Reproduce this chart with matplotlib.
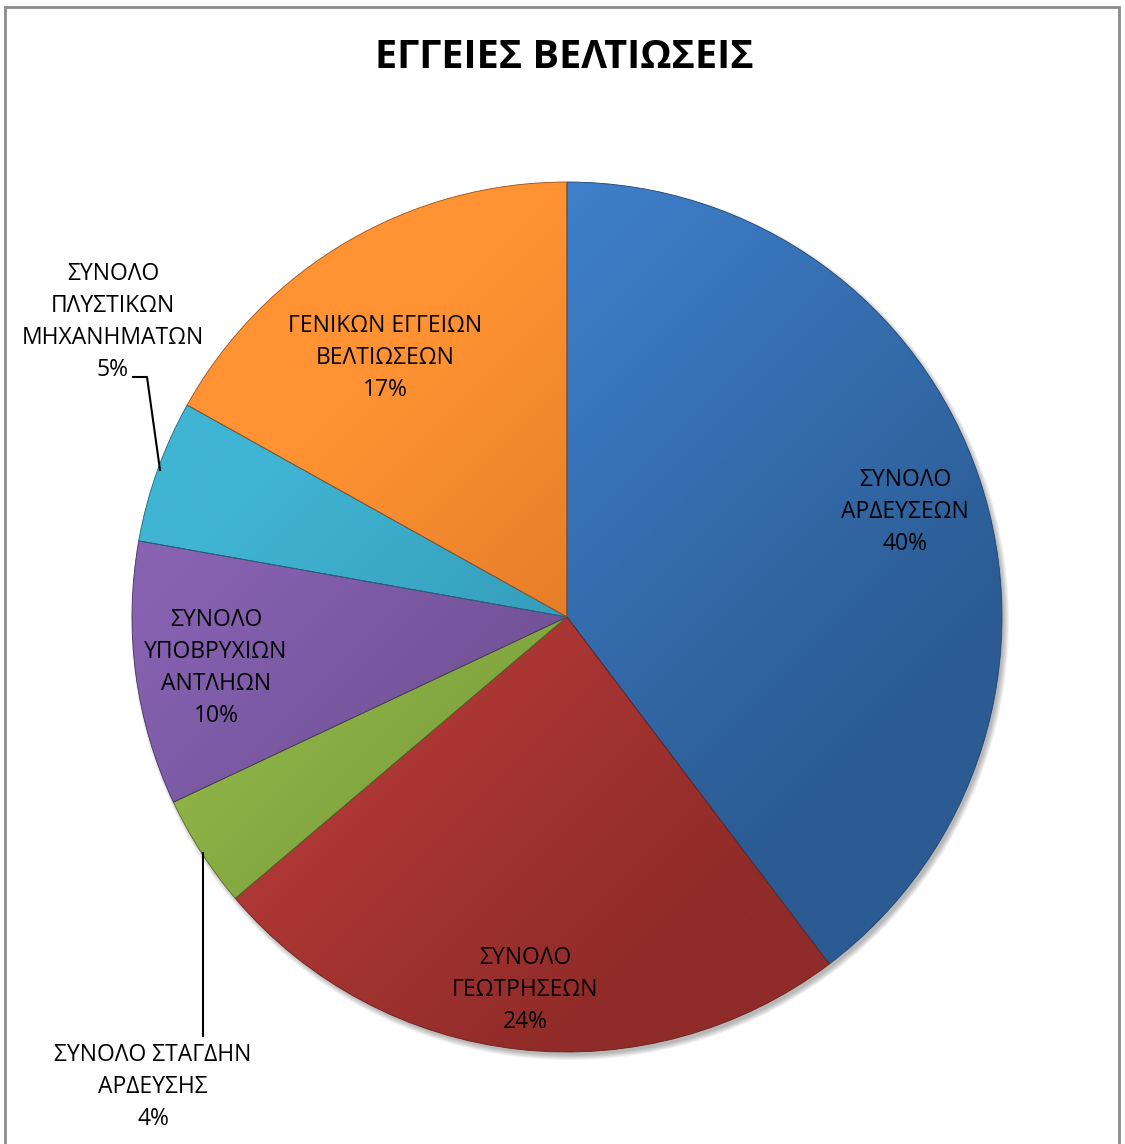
import numpy as np
import matplotlib.pyplot as plt
from matplotlib.patches import Circle, Rectangle
from matplotlib.colors import to_rgb

# Data (percent shares, clockwise from 12 o'clock)
categories = ["ΣΥΝΟΛΟ\nΑΡΔΕΥΣΕΩΝ", "ΣΥΝΟΛΟ\nΓΕΩΤΡΗΣΕΩΝ", "ΣΥΝΟΛΟ ΣΤΑΓΔΗΝ\nΑΡΔΕΥΣΗΣ",
              "ΣΥΝΟΛΟ\nΥΠΟΒΡΥΧΙΩΝ\nΑΝΤΛΗΩΝ", "ΣΥΝΟΛΟ\nΠΛΥΣΤΙΚΩΝ\nΜΗΧΑΝΗΜΑΤΩΝ",
              "ΓΕΝΙΚΩΝ ΕΓΓΕΙΩΝ\nΒΕΛΤΙΩΣΕΩΝ"]
values = [39.7, 24.1, 4.2, 9.8, 5.3, 16.9]
pct_labels = ["40%", "24%", "4%", "10%", "5%", "17%"]

light = ["#3F80CC", "#C6423F", "#98BF4C", "#8762B2", "#40B4D3", "#FF9333"]
dark = ["#2B5B92", "#8F2B28", "#6E8E35", "#5F4380", "#2A89A4", "#CD6A1F"]

plt.rcParams['font.family'] = ['Open Sans', 'Noto Sans', 'DejaVu Sans']

W, H = 1125, 1144
fig = plt.figure(figsize=(W / 100, H / 100), dpi=100)
ax = fig.add_axes([0, 0, 1, 1])

# outer frame
ax.add_patch(Rectangle((5, -10), 1114, H - 7 + 10, fill=False, ec="#8c8c8c", lw=2))

cx, cy, r = 567, H - 617, 435

# soft shadow
for k in range(6):
    ax.add_patch(Circle((cx + 3, cy - 4), r + 4 - k, fc="#000000", alpha=0.05, lw=0, zorder=1))

wedges, _ = ax.pie(values, startangle=90, counterclock=False, center=(cx, cy), radius=r,
                   frame=True, wedgeprops=dict(linewidth=0))

# diagonal gradient, light at upper left, dark at lower right
xs = np.linspace(cx - r, cx + r, 300)
ys = np.linspace(cy - r, cy + r, 300)
X, Y = np.meshgrid(xs, ys)
t = ((X - cx) - (Y - cy)) / (2 * r) + 0.5
t = np.clip(t, 0, 1)

for w, c1, c2 in zip(wedges, light, dark):
    a = np.array(to_rgb(c1))
    b = np.array(to_rgb(c2))
    img = a[None, None, :] * (1 - t[..., None]) + b[None, None, :] * t[..., None]
    w.set_facecolor("none")
    w.set_zorder(3)
    im = ax.imshow(img, extent=(cx - r, cx + r, cy - r, cy + r), origin='lower',
                   zorder=2, interpolation='bilinear')
    im.set_clip_path(w)
    w.set_edgecolor(tuple(b * 0.75))
    w.set_linewidth(0.6)

ax.set_xlim(0, W)
ax.set_ylim(0, H)
ax.set_aspect('equal')
ax.axis('off')

fs = 16.5
lsp = 1.45
ax.text(W / 2 + 2, H - 58, "ΕΓΓΕΙΕΣ ΒΕΛΤΙΩΣΕΙΣ", ha='center', va='center', fontsize=28.5,
        fontweight='bold', zorder=5)

inside = {0: (905, 512), 1: (525, 990), 3: (216, 668), 5: (385, 358)}
for i, (px, py) in inside.items():
    ax.text(px, H - py, categories[i] + "\n" + pct_labels[i], ha='center', va='center',
            fontsize=fs, linespacing=lsp, zorder=5, color="black")

# outside labels with leader lines
ax.text(153, H - 1087, categories[2] + "\n" + pct_labels[2], ha='center', va='center',
        fontsize=fs, linespacing=lsp, zorder=5)
ax.plot([203, 203], [H - 1036, H - 853], color='black', lw=1.5, zorder=6)

ax.text(113, H - 322, categories[4] + "\n" + pct_labels[4], ha='center', va='center',
        fontsize=fs, linespacing=lsp, zorder=5)
ax.plot([133, 147, 160], [H - 377, H - 377, H - 470], color='black', lw=1.5, zorder=6)

fig.savefig("out.png", dpi=100)
